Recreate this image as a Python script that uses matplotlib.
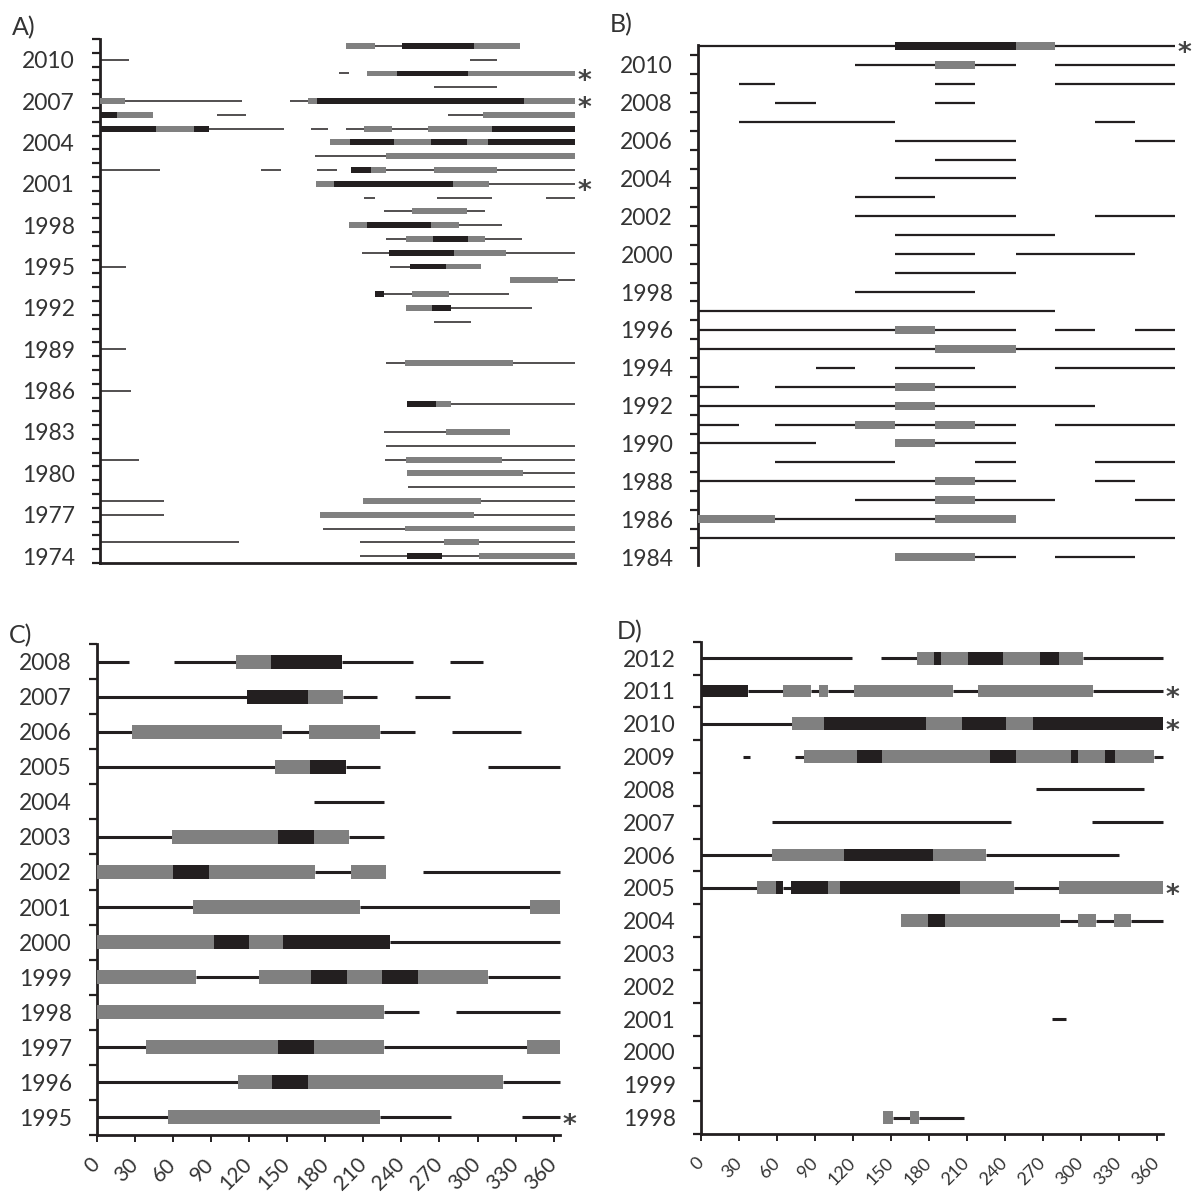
import matplotlib
matplotlib.use("Agg")
import matplotlib.pyplot as plt
import numpy as np

plt.rcParams['font.family'] = ['Lato', 'DejaVu Sans']

# ---------------- data: (year, start day, end day) ----------------
# A)
a_line = [(2011,211,232),(2010,0,22),(2010,284,305),(2009,184,191),(2008,257,305),
          (2007,19,109),(2007,146,160),(2006,90,112),(2006,267,294),
          (2005,84,141),(2005,162,175),(2005,189,203),(2005,224,252),
          (2003,165,220),(2002,0,46),(2002,124,139),(2002,167,182),(2002,220,257),(2002,305,365),
          (2001,299,365),(2000,203,211),(2000,259,301),(2000,343,365),
          (1999,218,240),(1999,282,296),(1998,276,309),(1997,220,235),(1997,296,324),
          (1996,201,222),(1996,312,365),(1995,0,20),(1995,223,238),(1994,352,365),
          (1993,218,240),(1993,268,314),(1992,270,332),(1991,257,285),(1989,0,20),
          (1988,220,234),(1988,317,365),(1986,0,24),(1985,270,365),(1983,218,266),
          (1982,220,365),(1981,0,30),(1981,219,235),(1981,309,365),(1980,325,365),
          (1979,237,365),(1978,0,49),(1978,293,365),(1977,0,49),(1977,287,365),
          (1976,171,234),(1975,0,107),(1975,200,264),(1975,291,365),
          (1974,200,236),(1974,263,291)]
a_gray = [(2011,189,211),(2011,287,323),(2009,205,228),(2009,283,365),(2007,0,19),
          (2007,160,167),(2007,326,365),(2006,13,41),(2006,294,365),(2005,43,72),
          (2005,203,224),(2005,252,301),(2004,177,192),(2004,226,254),(2004,282,298),
          (2003,220,365),(2002,208,220),(2002,257,305),(2001,166,180),(2001,271,299),
          (1999,240,282),(1998,191,205),(1998,254,276),(1997,235,256),(1997,283,296),
          (1996,272,312),(1995,266,293),(1994,315,352),(1993,240,268),(1992,235,255),
          (1988,234,317),(1985,258,270),(1983,266,315),(1981,235,309),(1980,236,325),
          (1978,202,293),(1977,169,287),(1976,234,365),(1975,264,291),(1974,291,365)]
a_black = [(2011,232,287),(2009,228,283),(2007,167,326),(2006,0,13),(2005,0,43),
           (2005,72,84),(2005,301,365),(2004,192,226),(2004,254,282),(2004,298,365),
           (2002,193,208),(2001,180,271),(1998,205,254),(1997,256,283),(1996,222,272),
           (1995,238,266),(1993,211,218),(1992,255,270),(1985,236,258),(1974,236,263)]
a_star = [2009, 2007, 2001]

# B)
b_line = [(2011,0,151),(2011,272,365),(2010,120,181),(2010,212,243),(2010,273,365),
          (2009,31,59),(2009,181,212),(2009,273,365),(2008,59,90),(2008,181,212),
          (2007,31,151),(2007,304,334),(2006,151,243),(2006,334,365),(2005,181,243),
          (2004,151,243),(2003,120,181),(2002,120,243),(2002,304,365),(2001,151,273),
          (2000,151,212),(2000,243,334),(1999,151,243),(1998,120,212),(1997,0,273),
          (1996,0,151),(1996,181,243),(1996,273,304),(1996,334,365),(1995,0,181),
          (1995,243,365),(1994,90,120),(1994,151,212),(1994,273,365),(1993,0,31),
          (1993,59,151),(1993,181,243),(1992,0,151),(1992,181,304),(1991,0,31),
          (1991,59,120),(1991,151,181),(1991,212,243),(1991,273,365),(1990,0,90),
          (1990,181,243),(1989,59,151),(1989,212,243),(1989,304,365),(1988,0,181),
          (1988,212,243),(1988,304,334),(1987,120,181),(1987,212,273),(1987,334,365),
          (1986,59,181),(1985,0,365),(1984,212,243),(1984,273,334)]
b_gray = [(2011,243,273),(2010,181,212),(1996,151,181),(1995,181,243),(1993,151,181),
          (1992,151,181),(1991,120,151),(1991,181,212),(1990,151,181),(1988,181,212),
          (1987,181,212),(1986,0,59),(1986,181,243),(1984,151,212)]
b_black = [(2011,151,243)]
b_star = [2011]

# C)
c_line = [(2008,0,25),(2008,61,110),(2008,193,249),(2008,278,304),(2007,0,118),
          (2007,194,221),(2007,251,278),(2006,0,28),(2006,146,167),(2006,223,251),
          (2006,280,334),(2005,0,140),(2005,196,223),(2005,308,365),(2004,171,226),
          (2003,0,59),(2003,199,226),(2002,172,200),(2002,257,365),(2001,0,76),
          (2001,207,341),(2000,231,365),(1999,78,128),(1999,308,365),(1998,226,254),
          (1998,283,365),(1997,0,39),(1997,226,339),(1996,0,111),(1996,320,365),
          (1995,0,56),(1995,223,279),(1995,335,365)]
c_gray = [(2008,110,137),(2007,166,194),(2006,28,146),(2006,167,223),(2005,140,168),
          (2003,59,143),(2003,171,199),(2002,0,60),(2002,88,172),(2002,200,228),
          (2001,76,207),(2001,341,365),(2000,0,92),(2000,120,147),(1999,0,78),
          (1999,128,169),(1999,197,225),(1999,253,308),(1998,0,226),(1997,39,143),
          (1997,171,226),(1997,339,365),(1996,111,138),(1996,166,320),(1995,56,223)]
c_black = [(2008,137,193),(2007,118,166),(2005,168,196),(2003,143,171),(2002,60,88),
           (2000,92,120),(2000,147,231),(1999,169,197),(1999,225,253),(1997,143,171),
           (1996,138,166)]
c_star = [1995]

# D)
d_line = [(2012,0,119),(2012,142,171),(2012,302,365),(2011,37,65),(2011,87,93),
          (2011,100,121),(2011,199,219),(2011,310,365),(2010,0,72),(2009,33,39),
          (2009,74,81),(2009,358,365),(2008,265,350),(2007,56,245),(2007,309,365),
          (2006,0,56),(2006,225,330),(2005,0,44),(2005,65,71),(2005,247,283),
          (2004,284,298),(2004,312,326),(2004,340,365),(2001,277,288),(1998,152,165),
          (1998,172,208)]
d_gray = [(2012,171,184),(2012,190,211),(2012,239,268),(2012,283,302),(2011,65,87),
          (2011,93,100),(2011,121,199),(2011,219,310),(2010,72,97),(2010,178,206),
          (2010,241,262),(2009,81,123),(2009,143,228),(2009,249,292),(2009,298,319),
          (2009,327,358),(2006,56,113),(2006,183,225),(2005,44,59),(2005,100,110),
          (2005,205,247),(2005,283,365),(2004,158,179),(2004,193,284),(2004,298,312),
          (2004,326,340),(1998,144,152),(1998,165,172)]
d_black = [(2012,184,190),(2012,211,239),(2012,268,283),(2011,0,37),(2010,97,178),
           (2010,206,241),(2010,262,365),(2009,123,143),(2009,228,249),(2009,292,298),
           (2009,319,327),(2006,113,183),(2005,59,65),(2005,71,100),(2005,110,205),
           (2004,179,193)]
d_star = [2011, 2010, 2005]

day_ticks = list(range(0, 361, 30))

GRAY = '#808080'
DARK = '#231f20'
TXT = '#333333'

fig = plt.figure(figsize=(11.94, 11.93), dpi=100, facecolor='white')

panels = [
    # name, rect, data, ylim, labels, line lw, bar height, x labels?, x label size
    ('A)', [0.0838, 0.5281, 0.3978, 0.4392], a_line, a_gray, a_black, a_star,
     (1973.5, 2011.5), range(1974, 2011, 3), 1.1, 0.43, False, 0),
    ('B)', [0.5846, 0.5264, 0.3995, 0.4359], b_line, b_gray, b_black, b_star,
     (1983.58, 2011.05), range(1984, 2011, 2), 1.6, 0.42, None, 0),
    ('C)', [0.0812, 0.0486, 0.3878, 0.4116], c_line, c_gray, c_black, c_star,
     (1994.5, 2008.5), range(1995, 2009), 2.2, 0.40, True, 15),
    ('D)', [0.5871, 0.0495, 0.3869, 0.4126], d_line, d_gray, d_black, d_star,
     (1997.5, 2012.5), range(1998, 2013), 2.2, 0.39, True, 13),
]

for name, rect, lines, grays, blacks, stars, ylim, ylabs, lw, bh, xlab, xfs in panels:
    ax = fig.add_axes(rect)
    for yr, s, e in lines:
        ax.hlines(yr, s, e, color=DARK, lw=lw, clip_on=False, zorder=2)
    for yr, s, e in grays:
        ax.barh(yr, e - s, left=s, height=bh, color=GRAY, clip_on=False, zorder=3)
    for yr, s, e in blacks:
        ax.barh(yr, e - s, left=s, height=bh, color=DARK, clip_on=False, zorder=3)
    for yr in stars:
        ax.annotate('*', xy=(365, yr), xytext=(2, -11), textcoords='offset points',
                    va='baseline', ha='left', fontsize=19, fontweight='bold',
                    color='#444444', family='DejaVu Sans', annotation_clip=False)

    ax.set_xlim(0, 365)
    ax.set_ylim(*ylim)
    for sp in ['top', 'right']:
        ax.spines[sp].set_visible(False)
    ax.spines['left'].set_linewidth(2)
    ax.spines['left'].set_color(DARK)
    ax.spines['bottom'].set_linewidth(2)
    ax.spines['bottom'].set_color(DARK)

    ax.set_yticks(list(ylabs))
    ax.set_yticklabels([str(y) for y in ylabs], fontsize=16.5, color=TXT)
    ax.tick_params(axis='y', which='major', length=0, pad=18)
    bounds = np.arange(np.ceil(ylim[0]) - 0.5, ylim[1] + 0.01, 1.0)
    bounds = bounds[(bounds >= ylim[0] - 0.01) & (bounds <= ylim[1] + 0.01)]
    ax.set_yticks(bounds, minor=True)
    ax.tick_params(axis='y', which='minor', length=5.5, width=1.6, color=DARK)

    if xlab:
        ax.set_xticks(day_ticks)
        ax.set_xticklabels([str(d) for d in day_ticks], fontsize=xfs, color=TXT,
                           rotation=45, ha='right', va='center', rotation_mode='anchor')
        ax.tick_params(axis='x', length=5, width=1.4, color=DARK, pad=14)
    else:
        ax.set_xticks([])
        if xlab is None:
            ax.spines['bottom'].set_visible(False)

fig.text(12/1194, 1 - 28/1193, 'A)', fontsize=18, color=TXT, va='center')
fig.text(610/1194, 1 - 25/1193, 'B)', fontsize=18, color=TXT, va='center')
fig.text(9/1194, 1 - 636/1193, 'C)', fontsize=18, color=TXT, va='center')
fig.text(617/1194, 1 - 632/1193, 'D)', fontsize=18, color=TXT, va='center')

fig.savefig('out.png', dpi=100, facecolor='white')
